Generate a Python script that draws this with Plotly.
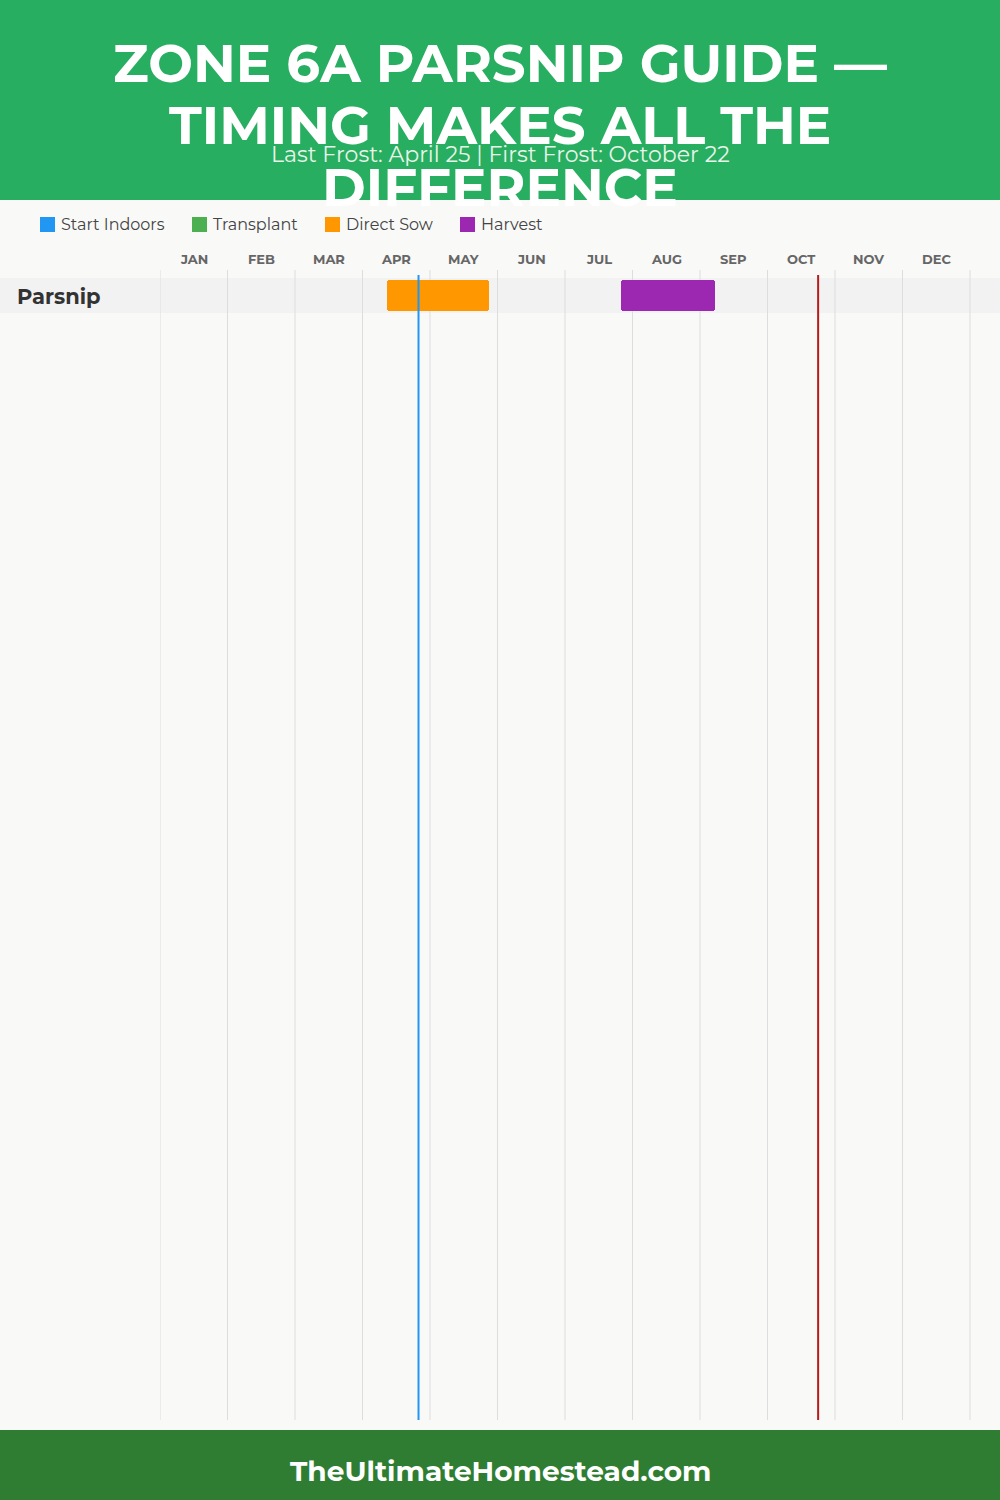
import plotly.graph_objects as go

crops = ["Parsnip"]
months = ["JAN","FEB","MAR","APR","MAY","JUN","JUL","AUG","SEP","OCT","NOV","DEC"]
# periods in fractional month units (0 = Jan 1)
sow_start = [3.36]; sow_end = [4.87]
harv_start = [6.83]; harv_end = [8.22]
last_frost = 3.83   # April 25
first_frost = 9.75  # October 22
legend_names = ["Start Indoors","Transplant","Direct Sow","Harvest"]
legend_colors = ["#2196f3","#4caf50","#ff9800","#9c27b0"]

top, bot = 275, 1420
def py(p): return (bot - p) / (bot - top)
def px(p): return (p - 160) / 840

FONT = "Montserrat, Open Sans, sans-serif"

fig = go.Figure()
fig.add_trace(go.Bar(y=crops, x=[e-s for s,e in zip(sow_start,sow_end)], base=sow_start,
                     orientation="h", marker=dict(color="#ff9800", line_width=0, cornerradius=3),
                     width=0.88, showlegend=False, hoverinfo="skip"))
fig.add_trace(go.Bar(y=crops, x=[e-s for s,e in zip(harv_start,harv_end)], base=harv_start,
                     orientation="h", marker=dict(color="#9c27b0", line_width=0, cornerradius=3),
                     width=0.88, showlegend=False, hoverinfo="skip"))

shapes = []
shapes.append(dict(type="rect", xref="paper", yref="y", x0=px(0), x1=1, y0=-0.5, y1=0.5,
                   fillcolor="#f2f2f2", line_width=0, layer="below"))
for m in range(13):
    shapes.append(dict(type="line", xref="x", yref="paper", x0=m, x1=m, y0=0, y1=py(270),
                       line=dict(color="#dddddd", width=1), layer="below"))
shapes.append(dict(type="line", xref="x", yref="paper", x0=last_frost, x1=last_frost, y0=0, y1=1,
                   line=dict(color="#2196f3", width=2)))
shapes.append(dict(type="line", xref="x", yref="paper", x0=first_frost, x1=first_frost, y0=0, y1=1,
                   line=dict(color="#b71c1c", width=2)))
shapes.append(dict(type="rect", xref="paper", yref="paper", x0=px(0)-1, x1=2, y0=py(200), y1=py(-10),
                   fillcolor="#27ae60", line_width=0, layer="below"))
shapes.append(dict(type="rect", xref="paper", yref="paper", x0=px(0)-1, x1=2, y0=py(1510), y1=py(1430),
                   fillcolor="#2e7d32", line_width=0))
for name, col, x in zip(legend_names, legend_colors, [40, 192, 325, 460]):
    shapes.append(dict(type="rect", xref="paper", yref="paper", x0=px(x), x1=px(x+15),
                       y0=py(232), y1=py(217), fillcolor=col, line_width=0))
fig.update_layout(shapes=shapes)

def ann(x, y, text, size, color, xanchor="center", xref="paper"):
    fig.add_annotation(x=x, y=py(y), xref=xref, yref="paper", xanchor=xanchor, yanchor="middle",
                       text=text, showarrow=False, font=dict(size=size, color=color, family=FONT))

for i, m in enumerate(months):
    ann(i+0.5, 259, f"<b>{m}</b>", 13, "#666", xref="x")

title_lines = ["ZONE 6A PARSNIP GUIDE —", "TIMING MAKES ALL THE", "DIFFERENCE"]
for t, yy in zip(title_lines, [63, 125, 187]):
    ann(px(500), yy, f"<b>{t}</b>", 53, "white")
ann(px(500), 155, "Last Frost: April 25 | First Frost: October 22", 22, "#e8f5e9")
for name, x in zip(legend_names, [40, 192, 325, 460]):
    ann(px(x+19), 225, name, 16, "#444", xanchor="left")
ann(px(15), 296, "<b>Parsnip</b>", 21, "#333", xanchor="left")
ann(px(500), 1471, "<b>TheUltimateHomestead.com</b>", 28, "white")

fig.update_xaxes(range=[0, 840/67.5], showgrid=False, zeroline=False, showticklabels=False, fixedrange=True)
fig.update_yaxes(range=[(bot-295.5)/35, -(295.5-top)/35], showgrid=False, zeroline=False,
                 showticklabels=False, fixedrange=True)
fig.update_layout(width=1000, height=1500, margin=dict(l=160, r=0, t=275, b=80),
                  paper_bgcolor="#f9f9f8", plot_bgcolor="#f9f9f8", bargap=0, barmode="overlay")
fig.write_html("out.html", config={"displayModeBar": False},
               post_script="document.body.style.margin='0';document.body.style.padding='0';")
